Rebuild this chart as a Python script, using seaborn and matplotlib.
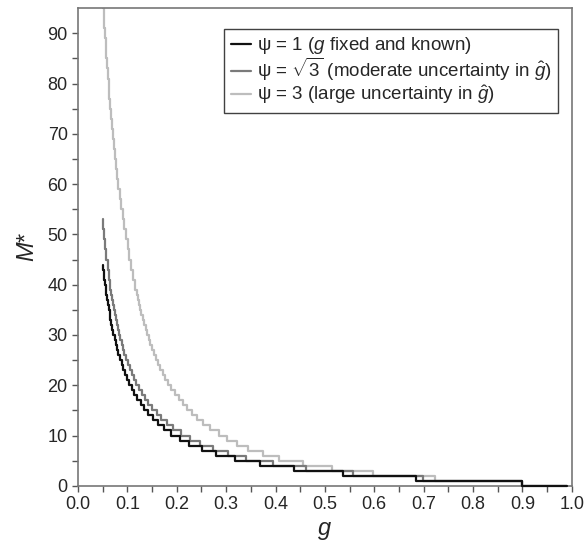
import numpy as np
import pandas as pd
import matplotlib
matplotlib.use("Agg")
import matplotlib.pyplot as plt
import seaborn as sns

# step functions: g where each level starts, and the level M*
black_g = [0.05, 0.0510, 0.0521, 0.0533, 0.0546, 0.0559, 0.0573, 0.0588, 0.0603, 0.0620,
           0.0637, 0.0655, 0.0674, 0.0694, 0.0716, 0.0739, 0.0763, 0.0789, 0.0817, 0.0848,
           0.0880, 0.0915, 0.0953, 0.0994, 0.1039, 0.1087, 0.1141, 0.1201, 0.1267, 0.1340,
           0.1423, 0.1517, 0.1623, 0.1746, 0.1889, 0.2057, 0.2257, 0.2501, 0.2803, 0.3187,
           0.3690, 0.4377, 0.5358, 0.6838, 0.90, 0.99]
black_m = [44, 43, 42, 41, 40, 39, 38, 37, 36, 35,
           34, 33, 32, 31, 30, 29, 28, 27, 26, 25,
           24, 23, 22, 21, 20, 19, 18, 17, 16, 15,
           14, 13, 12, 11, 10, 9, 8, 7, 6, 5,
           4, 3, 2, 1, 0, 0]

gray_g = [0.05, 0.0513, 0.0532, 0.0553, 0.0575, 0.0600, 0.0625, 0.0654, 0.0670, 0.0686,
          0.0703, 0.0722, 0.0741, 0.0760, 0.0782, 0.0804, 0.0828, 0.0854, 0.0880, 0.0908,
          0.0939, 0.0973, 0.1008, 0.1045, 0.1085, 0.1129, 0.1177, 0.1228, 0.1287, 0.1351,
          0.1422, 0.1501, 0.1589, 0.1688, 0.1802, 0.1933, 0.2084, 0.2263, 0.2471, 0.2726,
          0.3036, 0.341, 0.394, 0.461, 0.556, 0.698, 0.90, 0.99]
gray_m = [53, 51, 49, 47, 45, 43, 41, 39, 38, 37,
          36, 35, 34, 33, 32, 31, 30, 29, 28, 27,
          26, 25, 24, 23, 22, 21, 20, 19, 18, 17,
          16, 15, 14, 13, 12, 11, 10, 9, 8, 7,
          6, 5, 4, 3, 2, 1, 0, 0]

light_g = [0.05, 0.0510, 0.0522, 0.0534, 0.0546, 0.0559, 0.0573, 0.0587, 0.0602, 0.0618,
           0.0634, 0.0651, 0.0669, 0.0688, 0.0706, 0.0726, 0.0748, 0.0770, 0.0794,
           0.0818, 0.0845, 0.0873, 0.0902, 0.0935, 0.0968, 0.1004, 0.1041, 0.1078, 0.1119,
           0.1163, 0.1185, 0.1211, 0.1235, 0.1256, 0.1283, 0.1309, 0.1336, 0.1366, 0.1397,
           0.1427, 0.1459, 0.1496, 0.1533, 0.1577, 0.1620, 0.1663, 0.1713, 0.1768, 0.1824,
           0.189, 0.1963, 0.2039, 0.2118, 0.2200, 0.2307, 0.2400, 0.2531, 0.2675, 0.2845,
           0.301, 0.321, 0.344, 0.375, 0.407, 0.455, 0.515, 0.598, 0.723, 0.90, 0.99]
light_m = [98, 95, 93, 91, 89, 87, 85, 83, 81, 79,
           77, 75, 73, 71, 69, 67, 65, 63, 61,
           59, 57, 55, 53, 51, 49, 47, 45, 43, 41,
           39, 38, 37, 36, 35, 34, 33, 32, 31, 30,
           29, 28, 27, 26, 25, 24, 23, 22, 21, 20,
           19, 18, 17, 16, 15, 14, 13, 12, 11, 10,
           9, 8, 7, 6, 5, 4, 3, 2, 1, 0, 0]

labels = ["ψ = 1 ($g$ fixed and known)",
          r"ψ = $\sqrt{3}$ (moderate uncertainty in $\hat{g}$)",
          r"ψ = 3 (large uncertainty in $\hat{g}$)"]
colors = ["#111111", "#7a7a7a", "#bdbdbd"]

sns.set_style("ticks")
plt.rcParams["font.family"] = ["Liberation Sans", "DejaVu Sans"]
plt.rcParams["mathtext.fontset"] = "custom"
plt.rcParams["mathtext.rm"] = "Liberation Sans"
plt.rcParams["mathtext.it"] = "Liberation Sans:italic"

fig = plt.figure(figsize=(5.87, 5.44), dpi=100)
ax = fig.add_axes([0.133, 0.107, 0.841, 0.878])

series = [(light_g, light_m, 2), (gray_g, gray_m, 1), (black_g, black_m, 0)]
lines = {}
for gs, ms, i in series:
    df = pd.DataFrame({"g": gs, "M": ms})
    sns.lineplot(data=df, x="g", y="M", ax=ax, color=colors[i], lw=1.6,
                 drawstyle="steps-post", estimator=None, sort=False)
    lines[i] = ax.lines[-1]
lines[0].set_clip_on(False)
lines[0].set_zorder(3)

ax.set_xlim(0, 1.0)
ax.set_ylim(0, 95)
ax.set_xticks(np.arange(0, 1.01, 0.1))
ax.set_xticks(np.arange(0.05, 1.0, 0.1), minor=True)
ax.set_yticks(np.arange(0, 91, 10))
ax.set_yticks(np.arange(5, 95, 10), minor=True)
ax.xaxis.set_major_formatter(matplotlib.ticker.FormatStrFormatter("%.1f"))
ax.tick_params(which="both", direction="out", length=4, width=1, color="#555555",
               labelsize=13)
for s in ax.spines.values():
    s.set_color("#777777")
    s.set_linewidth(1.2)

ax.set_xlabel(r"$g$", fontsize=17, labelpad=5)
ax.set_ylabel(r"$M$*", fontsize=17, labelpad=6)

leg = ax.legend([lines[0], lines[1], lines[2]], labels, loc="upper right",
                bbox_to_anchor=(0.98, 0.965), fontsize=13.5, frameon=True, fancybox=False,
                handlelength=1.1, handletextpad=0.3, labelspacing=0.0, borderpad=0.35,
                borderaxespad=0.2)
leg.get_frame().set_edgecolor("#111111")
leg.get_frame().set_linewidth(1.0)

fig.savefig("out.png", dpi=100)
